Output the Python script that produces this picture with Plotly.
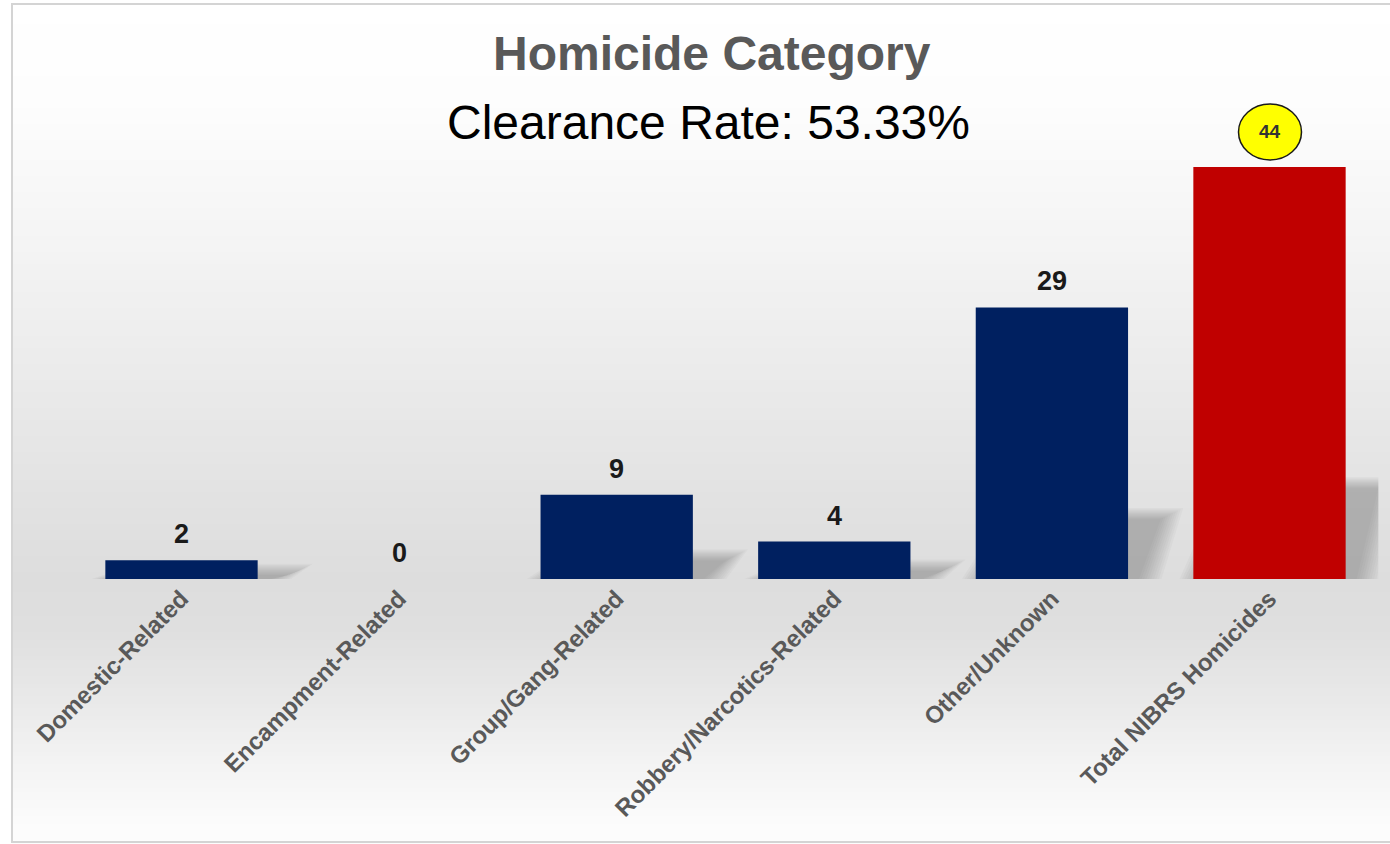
import plotly.graph_objects as go

# ---- data ----
categories = [
    "Domestic-Related",
    "Encampment-Related",
    "Group/Gang-Related",
    "Robbery/Narcotics-Related",
    "Other/Unknown",
    "Total NIBRS Homicides",
]
counts = [2, 0, 9, 4, 29, 44]
bar_colors = ["#002060", "#002060", "#002060", "#002060", "#002060", "#C00000"]
title_text = "Homicide Category"
subtitle_text = "Clearance Rate: 53.33%"

# ---- canvas / layout constants ----
W, H = 1390, 844
FONT = "Arial, 'Liberation Sans', sans-serif"
PX_Y = 9.364                                   # pixels per count unit
Y_MAX = 56
BASE_PX = 579                                  # baseline, pixels from top
X_DOMAIN = [72.7 / W, 1378.3 / W]
Y_DOMAIN = [(H - BASE_PX) / H, (H - BASE_PX + Y_MAX * PX_Y) / H]
PX_X = (X_DOMAIN[1] - X_DOMAIN[0]) * W / 6.0   # pixels per category step
BAR_W = 0.7

xs = list(range(len(categories)))

fig = go.Figure(
    go.Bar(
        x=xs,
        y=counts,
        width=BAR_W,
        marker=dict(color=bar_colors, line=dict(width=0)),
        hoverinfo="skip",
    )
)

shapes = []

# soft vertical background gradient (light at top and bottom, grey around the base)
stops = [(0, 255), (100, 253), (200, 247), (300, 240), (400, 233), (500, 226),
         (580, 221), (630, 223), (700, 233), (760, 243), (820, 251), (844, 253)]


def grey_at(py):
    for (a, ca), (b, cb) in zip(stops[:-1], stops[1:]):
        if a <= py <= b:
            t = (py - a) / (b - a)
            return round(ca + (cb - ca) * t)
    return stops[-1][1]


band = 4
for top in range(4, H, band):
    g = grey_at(top + band / 2)
    shapes.append(dict(
        type="rect", xref="paper", yref="paper", layer="below",
        x0=12 / W, x1=1.0, y0=1 - (top + band) / H, y1=1 - top / H,
        fillcolor=f"rgb({g},{g},{g})", line=dict(width=0),
    ))

# thin frame around the chart
shapes.append(dict(
    type="rect", xref="paper", yref="paper", layer="below",
    x0=12 / W, x1=1.01, y0=1 - 842 / H, y1=1 - 4 / H,
    fillcolor="rgba(0,0,0,0)", line=dict(color="#d4d4d4", width=2),
))

# blurred cast shadows behind each bar
for i, v in zip(xs, counts):
    if v <= 0:
        continue
    h = 0.22 * v
    n_layers = 10
    for k in range(n_layers):
        gpx = (n_layers - 1 - k) * 2.5
        gx, gy = gpx / PX_X, 0.5 * gpx / PX_Y
        pts = [
            (i - BAR_W / 2 + 0.04 - gx, 0),
            (i + BAR_W / 2 + 0.05 + gx, 0),
            (i + BAR_W / 2 + 0.15 + gx, h + gy),
            (i - BAR_W / 2 + 0.25 - gx, h + gy),
        ]
        path = "M " + " L ".join(f"{px:.4f},{py:.4f}" for px, py in pts) + " Z"
        shapes.append(dict(
            type="path", xref="x", yref="y", layer="below", path=path,
            fillcolor="rgba(100,100,100,0.045)", line=dict(width=0),
        ))

# yellow badge behind the total's value
total_idx = len(counts) - 1
shapes.append(dict(
    type="circle", xref="x", yref="y", layer="above",
    xsizemode="pixel", ysizemode="pixel",
    xanchor=xs[total_idx], yanchor=counts[total_idx],
    x0=-31, x1=32, y0=7, y1=63,
    fillcolor="#FFFF00", line=dict(color="#1a1a1a", width=1.5),
))

annotations = [
    dict(text=f"<b>{title_text}</b>", xref="paper", yref="paper",
         x=712 / W, y=1 - 53 / H, xanchor="center", yanchor="middle",
         showarrow=False, font=dict(family=FONT, size=48, color="#595959")),
    dict(text=subtitle_text, xref="paper", yref="paper",
         x=708 / W, y=1 - 122 / H, xanchor="center", yanchor="middle",
         showarrow=False, font=dict(family=FONT, size=48, color="#000000")),
]

for i, v in zip(xs, counts):
    if i == total_idx:
        annotations.append(dict(
            text=f"<b>{v}</b>", x=i, y=v, xref="x", yref="y", yshift=35,
            xanchor="center", yanchor="middle", showarrow=False,
            font=dict(family=FONT, size=19, color="#333333")))
    else:
        annotations.append(dict(
            text=f"<b>{v}</b>", x=i, y=v, xref="x", yref="y", yshift=26,
            xanchor="center", yanchor="middle", showarrow=False,
            font=dict(family=FONT, size=27, color="#1a1a1a")))

fig.update_layout(
    width=W, height=H,
    margin=dict(l=0, r=0, t=0, b=0),
    paper_bgcolor="#ffffff",
    plot_bgcolor="rgba(0,0,0,0)",
    showlegend=False,
    shapes=shapes,
    annotations=annotations,
    xaxis=dict(
        domain=X_DOMAIN, range=[-0.5, 5.5],
        tickmode="array", tickvals=xs, ticktext=categories,
        tickangle=-45, ticks="", showgrid=False, zeroline=False, showline=False,
        tickfont=dict(family=FONT, size=24, color="#595959", weight="bold"),
        automargin=False,
    ),
    yaxis=dict(
        domain=Y_DOMAIN, range=[0, Y_MAX], visible=False,
        showgrid=False, zeroline=False, automargin=False,
    ),
)

fig.write_html("out.html")
